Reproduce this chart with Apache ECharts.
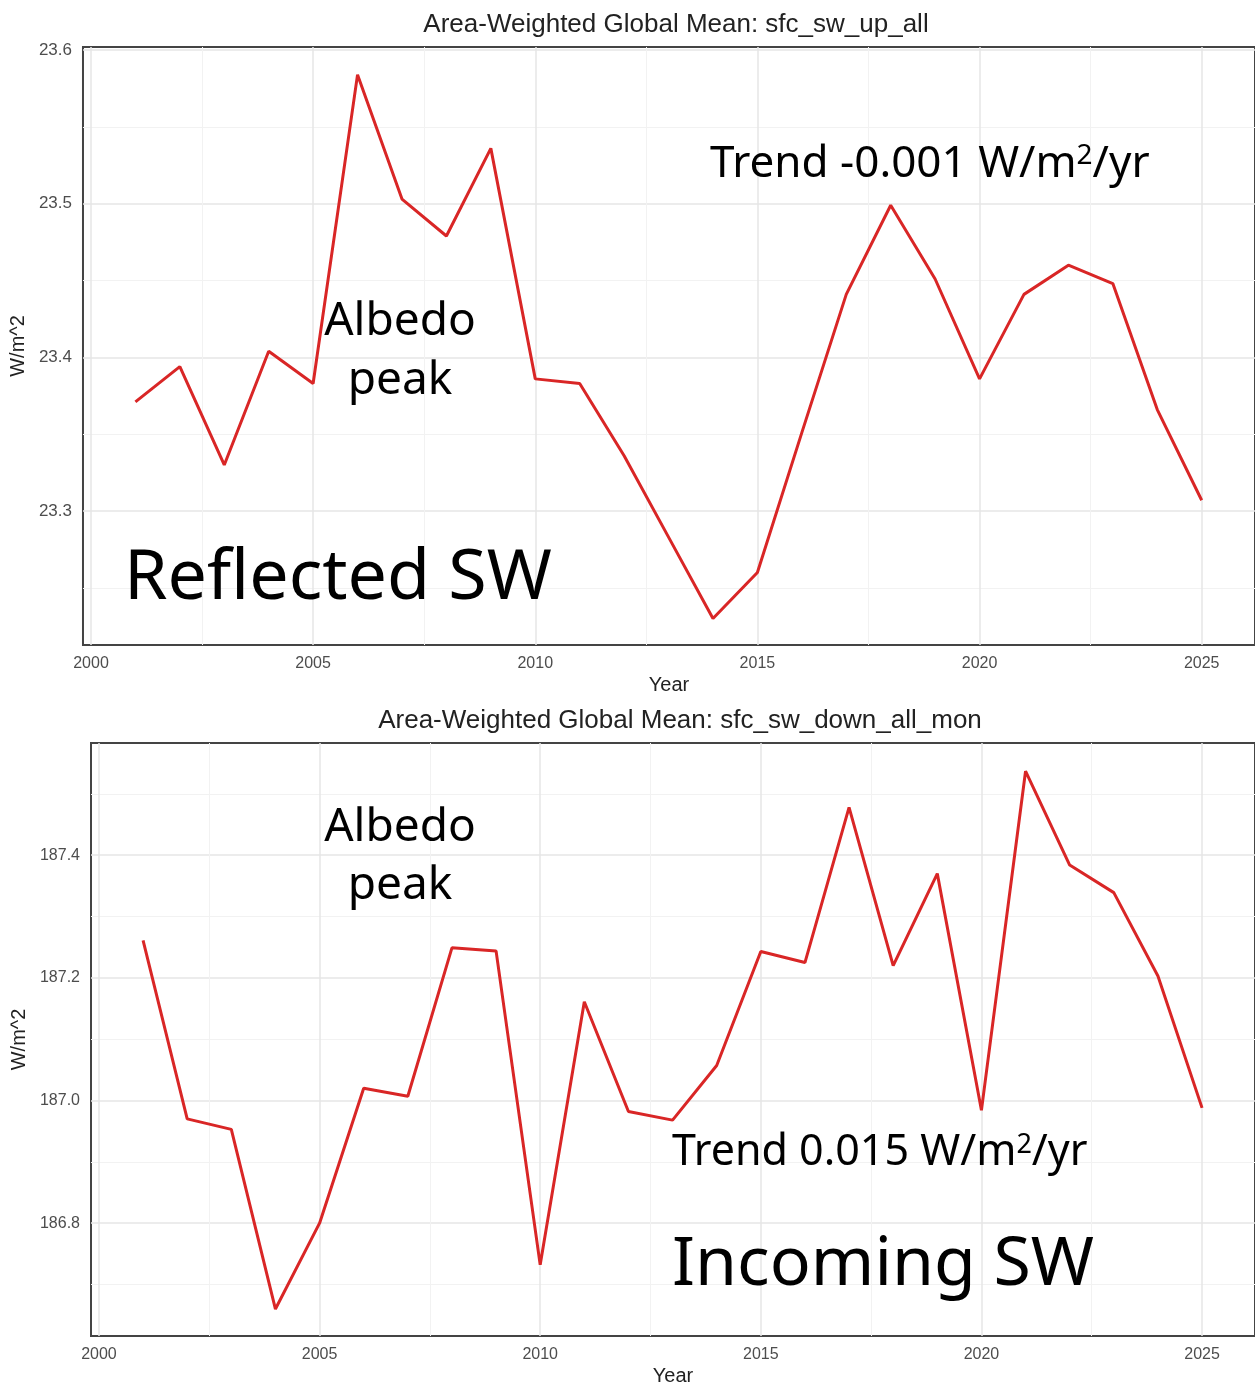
<!DOCTYPE html>
<html>
<head>
<meta charset="utf-8">
<script src="https://cdn.jsdelivr.net/npm/echarts@6/dist/echarts.min.js"></script>
<style>
  html, body { margin: 0; background: #fff; }
  #chart { width: 1255px; height: 1387px; }
</style>
</head>
<body>
<div id="chart"></div>
<script>
// data
const years = [2001, 2002, 2003, 2004, 2005, 2006, 2007, 2008, 2009, 2010, 2011, 2012, 2013,
  2014, 2015, 2016, 2017, 2018, 2019, 2020, 2021, 2022, 2023, 2024, 2025]
const swUp = [23.371, 23.394, 23.330, 23.404, 23.383, 23.584, 23.503, 23.479, 23.536, 23.386,
  23.383, 23.336, 23.283, 23.230, 23.260, 23.351, 23.441, 23.499, 23.451, 23.386, 23.441,
  23.460, 23.448, 23.366, 23.307]
const swDown = [187.261, 186.970, 186.953, 186.660, 186.800, 187.020, 187.007, 187.249, 187.244,
  186.732, 187.161, 186.982, 186.968, 187.057, 187.243, 187.225, 187.478, 187.220, 187.370,
  186.984, 187.537, 187.384, 187.339, 187.203, 186.988]

const xMajor = [2000, 2005, 2010, 2015, 2020, 2025]
const xMinor = [2002.5, 2007.5, 2012.5, 2017.5, 2022.5]
const upMajor = [23.3, 23.4, 23.5, 23.6]
const upMinor = [23.25, 23.35, 23.45, 23.55]
const downMajor = [186.8, 187.0, 187.2, 187.4]
const downMinor = [186.7, 186.9, 187.1, 187.3, 187.5]

const FONT = 'Liberation Sans'
const NOTE = 'Noto Sans'
const RED = '#d92626'

function mainAxis(grid, min, max, ticks, extra) {
  return Object.assign({
    type: 'value', gridIndex: grid, min, max,
    axisLine: { show: false },
    axisTick: { show: false, customValues: ticks },
    splitLine: { show: true, lineStyle: { color: '#e6e6e6', width: 1.5 } },
    nameTextStyle: { color: '#222', fontFamily: FONT, fontSize: 20 }
  }, extra)
}

function minorAxis(grid, min, max, ticks) {
  return {
    type: 'value', gridIndex: grid, min, max,
    axisLine: { show: false },
    axisTick: { show: false, customValues: ticks },
    axisLabel: { show: false, customValues: ticks },
    splitLine: { show: true, lineStyle: { color: '#f2f2f2', width: 1 } }
  }
}

function label(ticks, size, fmt) {
  return { customValues: ticks, color: '#4d4d4d', fontFamily: FONT, fontSize: size, margin: 11, formatter: fmt }
}

function note(text, x, y, size) {
  return { type: 'text', x, y, z: 100,
    style: { text, font: size + 'px "Noto Sans"', fill: '#000', align: 'center', verticalAlign: 'middle' } }
}

function trend(text, x, y, size) {
  return { type: 'text', x, y, z: 100, style: {
    text: '{a|' + text + ' W/m}{s|2}{a|/yr}', align: 'left', verticalAlign: 'middle',
    rich: { a: { fontFamily: NOTE, fontSize: size, color: '#000' },
            s: { fontFamily: NOTE, fontSize: Math.round(size * 0.63), color: '#000', verticalAlign: 'top', padding: [0, 0, 14, 0] } } } }
}

const upX = [1999.82, 2026.2], downX = [1999.82, 2026.2]
const upY = [23.2128, 23.602], downY = [186.616, 187.583]
const yearFmt = v => String(v)
const oneDec = v => v.toFixed(1)

const chart = echarts.init(document.getElementById('chart'))
chart.setOption({
  backgroundColor: '#fff',
  animation: false,
  title: [
    { text: 'Area-Weighted Global Mean: sfc_sw_up_all', left: 671, top: 7, textAlign: 'center',
      textStyle: { fontFamily: FONT, fontWeight: 'normal', fontSize: 26, color: '#222' } },
    { text: 'Area-Weighted Global Mean: sfc_sw_down_all_mon', left: 675, top: 703, textAlign: 'center',
      textStyle: { fontFamily: FONT, fontWeight: 'normal', fontSize: 26, color: '#222' } }
  ],
  grid: [
    { left: 82, top: 47, width: 1178, height: 598, show: true, borderColor: '#444', borderWidth: 2 },
    { left: 91, top: 743, width: 1168, height: 595, show: true, borderColor: '#444', borderWidth: 2 }
  ],
  xAxis: [
    mainAxis(0, upX[0], upX[1], xMajor, { name: 'Year', nameLocation: 'middle', nameGap: 30, axisLabel: label(xMajor, 16, yearFmt) }),
    minorAxis(0, upX[0], upX[1], xMinor),
    mainAxis(1, downX[0], downX[1], xMajor, { name: 'Year', nameLocation: 'middle', nameGap: 30, axisLabel: label(xMajor, 16, yearFmt) }),
    minorAxis(1, downX[0], downX[1], xMinor)
  ],
  yAxis: [
    mainAxis(0, upY[0], upY[1], upMajor, { name: 'W/m^2', nameLocation: 'middle', nameGap: 52, axisLabel: label(upMajor, 17, oneDec) }),
    minorAxis(0, upY[0], upY[1], upMinor),
    mainAxis(1, downY[0], downY[1], downMajor, { name: 'W/m^2', nameLocation: 'middle', nameGap: 61, axisLabel: label(downMajor, 16, oneDec) }),
    minorAxis(1, downY[0], downY[1], downMinor)
  ],
  series: [
    { type: 'line', xAxisIndex: 0, yAxisIndex: 0, showSymbol: false, z: 5,
      data: years.map((y, i) => [y, swUp[i]]), lineStyle: { color: RED, width: 3 } },
    { type: 'line', xAxisIndex: 2, yAxisIndex: 2, showSymbol: false, z: 5,
      data: years.map((y, i) => [y, swDown[i]]), lineStyle: { color: RED, width: 3 } }
  ],
  graphic: [
    note('Albedo', 400, 322, 46),
    note('peak', 400, 381, 46),
    note('Albedo', 400, 828, 46),
    note('peak', 400, 886, 46),
    Object.assign(note('Reflected SW', 124, 579, 70), { style: { text: 'Reflected SW', font: '70px "Noto Sans"', fill: '#000', align: 'left', verticalAlign: 'middle' } }),
    Object.assign(note('Incoming SW', 672, 1266, 68), { style: { text: 'Incoming SW', font: '68px "Noto Sans"', fill: '#000', align: 'left', verticalAlign: 'middle' } }),
    trend('Trend -0.001', 710, 164, 44),
    trend('Trend 0.015', 672, 1153, 43)
  ]
})
</script>
</body>
</html>
